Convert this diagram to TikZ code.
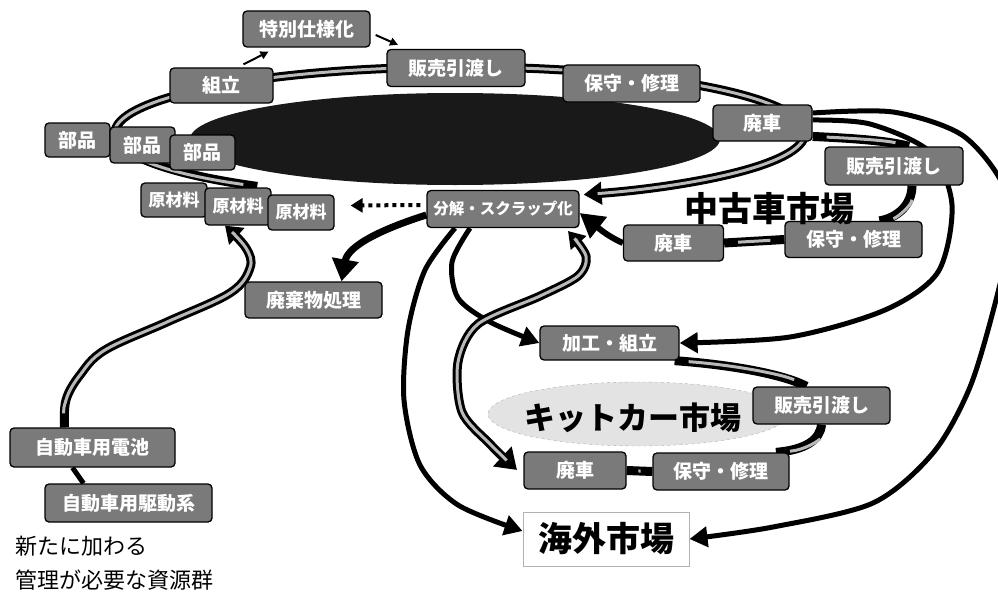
\documentclass[tikz,border=0pt]{standalone}
\usepackage{fontspec}
\newfontfamily\cjk{Noto Sans CJK JP}
\usetikzlibrary{arrows.meta,backgrounds,shapes.geometric}
\begin{document}
\begin{tikzpicture}[x=1pt,y=-1pt,
  box/.style={draw=black, line width=1.3pt, rounded corners=4pt, fill=black!52,
    text=white, font=\cjk\bfseries\fontsize{19}{20}\selectfont, inner sep=0pt,
    minimum height=36pt},
  smallbox/.style={box, font=\cjk\bfseries\fontsize{17}{18}\selectfont},
  tube/.style={line width=9pt, black, line cap=butt,
    postaction={draw=gray!55, line width=3pt, -, shorten >=14pt, shorten <=14pt}},
  bigarrow/.style={line width=5pt, black, -{Triangle[length=18pt,width=20pt]}},
  thinarrow/.style={line width=2pt, black, -{Triangle[length=8pt,width=8pt]}},
  bigtext/.style={font=\cjk\bfseries\fontsize{#1}{#1}\selectfont, inner sep=0pt},
  note/.style={font=\cjk\fontsize{22}{22}\selectfont, inner sep=0pt, anchor=west}
]
\useasboundingbox (0,0) rectangle (998,594);

% ---- boxes ----
\node[box, minimum width=127pt] (tokubetsu) at (306.5,29) {特別仕様化};
\node[box, minimum width=103pt, minimum height=35pt] (kumitate) at (221.5,85.5) {組立};
\node[box, minimum width=138pt, minimum height=37pt] (hanbai1) at (456,68) {販売引渡し};
\node[box, minimum width=137pt, minimum height=37pt] (hoshu1) at (631.5,83.5) {保守・修理};
\node[box, minimum width=99pt] (haisha1) at (762.5,123) {廃車};
\node[box, minimum width=138pt, minimum height=38pt] (hanbai2) at (894,166) {販売引渡し};
\node[box, minimum width=137pt] (hoshu2) at (853.5,239.5) {保守・修理};
\node[box, minimum width=100pt] (haisha2) at (673.5,243) {廃車};
\node[box, minimum width=152pt, minimum height=37pt, font=\cjk\bfseries\fontsize{15.5}{16}\selectfont] (bunkai) at (503,209) {分解・スクラップ化};
\node[box, minimum width=65pt, minimum height=34pt] (buhin1) at (77.5,140) {部品};
\node[box, minimum width=65pt] (buhin2) at (142.5,145) {部品};
\node[box, minimum width=65pt, minimum height=35pt] (buhin3) at (202.5,152.5) {部品};
\node[smallbox, minimum width=66pt, minimum height=34pt] (genzai1) at (174,200) {原材料};
\node[smallbox, minimum width=66pt, minimum height=37pt] (genzai2) at (238,206.5) {原材料};
\node[smallbox, minimum width=66pt, minimum height=35pt] (genzai3) at (301,212.5) {原材料};
\node[box, minimum width=137pt] (haiki) at (313.5,300) {廃棄物処理};
\node[box, minimum width=165pt, minimum height=39pt] (battery) at (92.5,447.5) {自動車用電池};
\node[box, minimum width=167pt, minimum height=38pt] (drive) at (128.5,503) {自動車用駆動系};
\node[box, minimum width=139pt, minimum height=34pt] (kako) at (609.5,343) {加工・組立};
\node[box, minimum width=137pt, minimum height=37pt] (hanbai3) at (821.5,405.5) {販売引渡し};
\node[box, minimum width=136pt, minimum height=37pt] (hoshu3) at (721,471.5) {保守・修理};
\node[box, minimum width=102pt, minimum height=37pt] (haisha3) at (575,470.5) {廃車};
\node[draw=gray!60, line width=1pt, fill=white, minimum width=166pt, minimum height=54pt,
      bigtext=34] (kaigai) at (606,539) {海外市場};

% ---- free texts ----
\node[bigtext=34] (chuko) at (769,209) {中古車市場};
\node[note] (note1) at (15,546) {新たに加わる};
\node[note] (note2) at (15,580) {管理が必要な資源群};

\begin{pgfonlayer}{background}
  \fill[white] (0,0) rectangle (998,594);
  % big dark ellipse and kit car market ellipse
  \fill[black!90] (455,139) ellipse [x radius=265, y radius=46];
  \filldraw[fill=gray!22, draw=gray!60, dashed] (638,414) ellipse [x radius=150, y radius=32];
  \node[bigtext=31] (kit) at (633,418) {キットカー市場};

  % main cycle ring (centre 460,133)
  \draw[tube, -{Triangle[length=18pt,width=22pt]}]
    (257.2,186.4) arc[start angle=126, end angle=429, x radius=345, y radius=66];

  % special spec
  \draw[thinarrow] ([xshift=22pt,yshift=3pt]kumitate.north) -- ([xshift=-38pt,yshift=-4pt]tokubetsu.south);
  \draw[thinarrow] ([xshift=5pt,yshift=-6pt]tokubetsu.east) -- ([xshift=-58pt,yshift=4pt]hanbai1.north);

  % used car market cycle
  \draw[tube] (haisha1.-15) .. controls (845,138) and (885,140) .. ([xshift=15pt]hanbai2.north);
  \draw[tube] ([xshift=18pt]hanbai2.south) .. controls (912,205) and (897,218) .. ([xshift=26pt]hoshu2.north);
  \draw[tube] (hoshu2.west) -- (haisha2.east);
  \draw[line width=6pt, -{Triangle[length=24pt,width=26pt]}] (haisha2.west) .. controls (605,235) and (595,225) .. ([yshift=-4pt]bunkai.east);

  % scrap to raw material (dotted) and waste
  \draw[line width=4pt, dash pattern=on 4pt off 4pt, -{Triangle[length=12pt,width=14pt]}]
    ([xshift=-6pt,yshift=4pt]bunkai.west) -- ([xshift=16pt,yshift=7pt]genzai3.east);
  \draw[line width=7pt, -{Triangle[length=22pt,width=26pt]}]
    ([yshift=-6pt]bunkai.west) .. controls (385,228) and (348,245) .. ([xshift=28pt]haiki.north);

  % new resources
  \draw[line width=5pt] ([xshift=-45pt]drive.north) -- ([xshift=-20pt]battery.south);
  \draw[tube, -{Triangle[length=16pt,width=22pt]}] plot[smooth, tension=0.6] coordinates
    {([xshift=-28pt]battery.north) (66,400) (80,375) (105,350) (167,322) (230,293) (250,268) (246,248) ([xshift=-13pt]genzai2.south)};

  % scrap to kit assembly and overseas
  \draw[bigarrow] plot[smooth] coordinates
    {([xshift=-33pt]bunkai.south) (452,262) (458,298) (490,322) (kako.west)};
  \draw[bigarrow] plot[smooth] coordinates
    {([xshift=-48pt]bunkai.south) (425,270) (408,330) (404,400) (420,465) (458,505) ([yshift=8pt]kaigai.west)};

  % scrapped car to kit assembly and overseas
  \draw[bigarrow] plot[smooth] coordinates
    {([yshift=3pt]haisha1.east) (870,124) (930,152) (952,205) (938,272) (885,310) (790,337) (kako.east)};
  \draw[bigarrow] plot[smooth] coordinates
    {([yshift=10pt]haisha1.east) (893,112) (962,135) (1003,185) (1008,240) (996,300) (970,387) (933,453) (873,503) (773,527) (kaigai.east)};

  % kit car cycle
  \draw[tube] ([xshift=-5pt]kako.south east) .. controls (735,365) and (785,375) .. ([xshift=-15pt]hanbai3.north);
  \draw[tube] (hanbai3.south) .. controls (820,440) and (805,450) .. ([xshift=55pt]hoshu3.north);
  \draw[tube] (hoshu3.west) -- (haisha3.east);
  \draw[tube, {Triangle[length=20pt,width=26pt]}-{Triangle[length=16pt,width=20pt]}] plot[smooth] coordinates
    {(517,470) (490,444) (462,412) (458,362) (478,324) (540,296) (578,276) (586,256) (568,231)};
\end{pgfonlayer}
\end{tikzpicture}
\end{document}
